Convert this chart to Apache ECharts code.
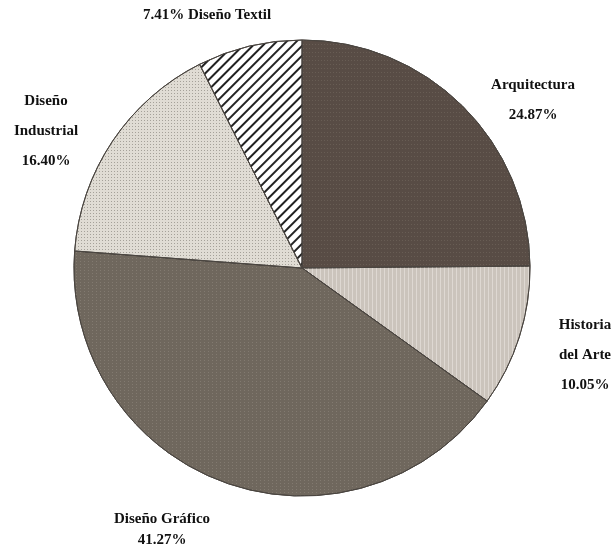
<!DOCTYPE html>
<html>
<head>
<meta charset="utf-8">
<script src="https://cdn.jsdelivr.net/npm/echarts@6/dist/echarts.min.js"></script>
<style>html,body{margin:0;padding:0;background:#fff}#c{width:616px;height:550px}</style>
</head>
<body>
<div id="c"></div>
<script>
const categories = ['Arquitectura', 'Historia del Arte', 'Diseño Gráfico', 'Diseño Industrial', 'Diseño Textil'];
const values = [24.87, 10.05, 41.27, 16.40, 7.41];
const labelTexts = [
  'Arquitectura\n24.87%',
  'Historia\ndel Arte\n10.05%',
  'Diseño Gráfico\n41.27%',
  'Diseño\nIndustrial\n16.40%',
  '7.41% Diseño Textil'
];

const styles = [
  {color: '#584c45', decal: {symbol: 'rect', symbolSize: 1, dashArrayX: [1, 2], dashArrayY: [1, 3], color: 'rgba(120,110,100,0.5)'}},
  {color: '#cbc4bc', decal: {symbol: 'rect', symbolSize: 1, dashArrayX: [1, 3], dashArrayY: [1, 0], color: 'rgba(235,230,225,0.6)'}},
  {color: '#6f675d', decal: {symbol: 'rect', symbolSize: 1, dashArrayX: [1, 3], dashArrayY: [1, 2], color: 'rgba(150,142,132,0.5)'}},
  {color: '#e0dcd4', decal: {symbol: 'rect', symbolSize: 1, dashArrayX: [1, 2], dashArrayY: [1, 2], color: 'rgba(140,135,128,0.7)'}},
  {color: '#ffffff', decal: {symbol: 'rect', symbolSize: 1, dashArrayX: [1, 0], dashArrayY: [2, 5], rotation: -Math.PI / 4, color: '#222'}}
];
const labelPos = [
  {x: 533, y: 100, align: 'center', lh: 30},
  {x: 585, y: 355, align: 'center', lh: 30},
  {x: 162, y: 530, align: 'center', lh: 21},
  {x: 46, y: 131, align: 'center', lh: 30},
  {x: 207, y: 15, align: 'center', lh: 30}
];

const chart = echarts.init(document.getElementById('c'));
chart.setOption({
  animation: false,
  backgroundColor: '#ffffff',
  series: [{
    type: 'pie',
    center: [302, 268],
    radius: 228,
    startAngle: 90,
    clockwise: true,
    label: {
      show: true,
      position: 'outside',
      overflow: 'none',
      fontFamily: 'Liberation Serif',
      fontWeight: 'bold',
      fontSize: 15,
      lineHeight: 30,
      color: '#111',
      formatter: p => labelTexts[p.dataIndex]
    },
    labelLine: {show: false},
    labelLayout: function (params) {
      const p = labelPos[params.dataIndex];
      return {x: p.x, y: p.y, align: p.align, verticalAlign: 'middle', width: 200};
    },
    itemStyle: {borderColor: '#4a4540', borderWidth: 1},
    data: categories.map((c, i) => ({
      name: c,
      value: values[i],
      label: {lineHeight: labelPos[i].lh},
      itemStyle: {color: styles[i].color, decal: styles[i].decal}
    }))
  }]
});
</script>
</body>
</html>
